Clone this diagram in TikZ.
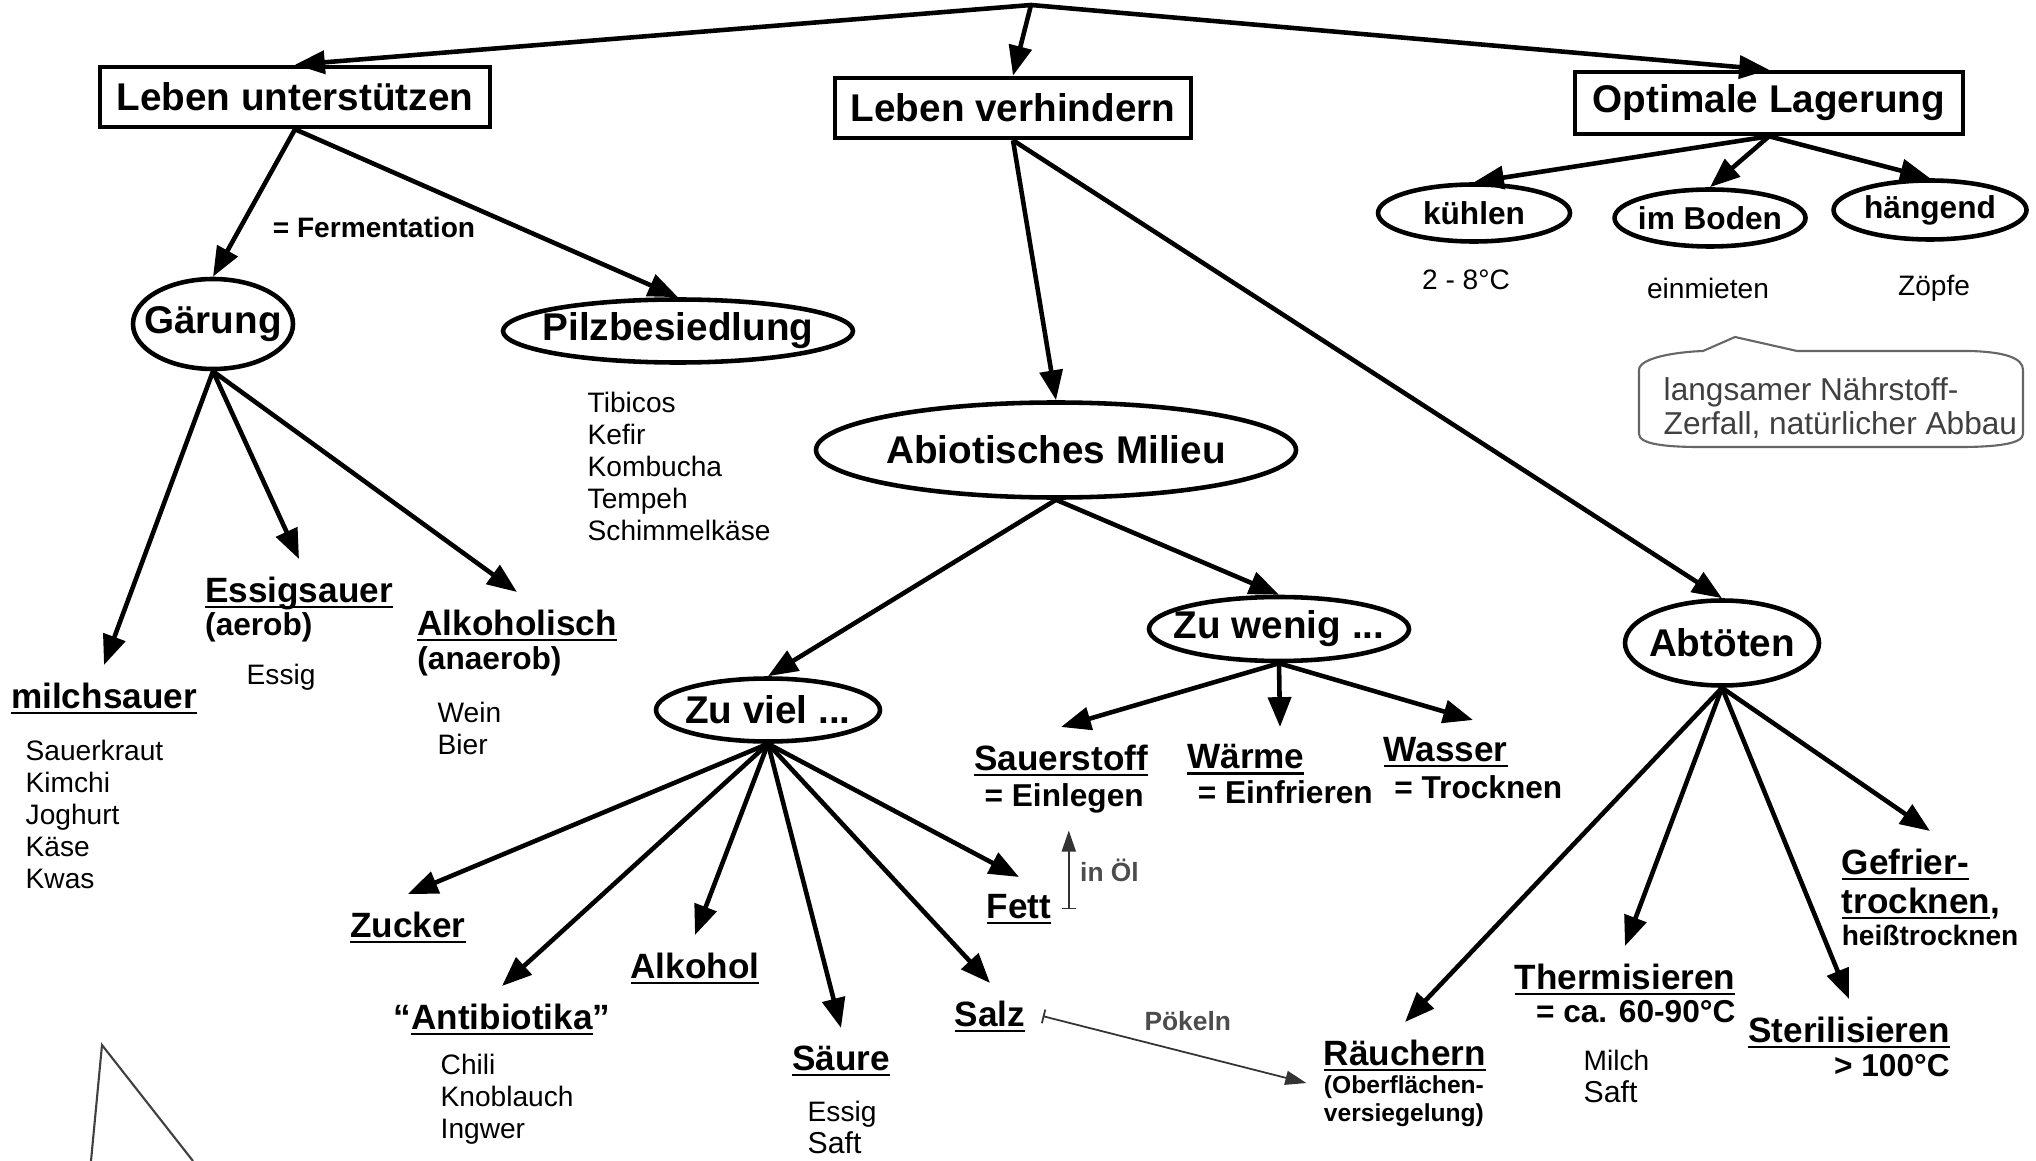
\documentclass[tikz,border=0pt]{standalone}
\usepackage{fontspec}
\setmainfont{Liberation Sans}
\setsansfont{Liberation Sans}
\usetikzlibrary{arrows.meta,shapes.geometric}
\newcommand\haupt{\fontsize{11}{13}\selectfont\bfseries}
\newcommand\stw{\fontsize{10}{12}\selectfont\bfseries}
\newcommand\klein{\fontsize{8}{9.1}\selectfont}
\newsavebox\strichbox
\newcommand\strich[1]{\sbox\strichbox{#1}\rlap{\rule[-1.6pt]{\wd\strichbox}{.6pt}}\usebox\strichbox}
\newcommand\zentr[1]{\makebox[0pt]{#1}}
\begin{document}
\begin{tikzpicture}[x=1cm,y=-1cm,font=\sffamily,
	kasten/.style={draw,line width=1.3pt,inner sep=0pt,minimum height=.6cm,font=\haupt},
	oval/.style={ellipse,draw,line width=1.3pt,inner sep=0pt,font=\haupt},
	wort/.style={anchor=north,align=left,inner sep=2pt,outer sep=3pt,font=\stw},
	liste/.style={anchor=north west,align=left,inner sep=0pt,font=\klein},
	pfeil/.style={-{Triangle[length=8.5pt,width=6.5pt]},line width=1.3pt},
	duenn/.style={{Bar[width=4pt]}-{Triangle[length=6pt,width=4pt]},line width=.5pt,black!80},
	grau/.style={text=black!70,inner sep=1pt,font=\fontsize{7.5}{9}\selectfont\bfseries}]
	\useasboundingbox (0,0) rectangle (20.36,11.61);
	\coordinate (spitze) at (10.31,0.05); % gemeinsamer Ausgangspunkt
	\node[kasten,minimum width=3.90cm] (lu) at (2.95,0.97) {Leben unterstützen};
	\node[kasten,minimum width=3.56cm] (lv) at (10.13,1.08) {Leben verhindern};
	\node[kasten,minimum width=3.88cm,minimum height=.62cm] (ol) at (17.69,1.03) {Optimale Lagerung};
	% Lagerung
	\node[oval,minimum width=1.92cm,minimum height=.57cm,font=\fontsize{9}{11}\selectfont\bfseries] (kuehlen) at (14.74,2.13) {\zentr{kühlen}};
	\node[oval,minimum width=1.91cm,minimum height=.57cm,font=\fontsize{9}{11}\selectfont\bfseries] (boden) at (17.10,2.18) {\zentr{im Boden}};
	\node[oval,minimum width=1.93cm,minimum height=.59cm,font=\fontsize{9}{11}\selectfont\bfseries] (haengend) at (19.30,2.10) {\zentr{hängend}};
	\node[font=\klein] (grad) at (14.66,2.80) {2 - 8°C};
	\node[font=\klein] (mieten) at (17.08,2.88) {einmieten};
	\node[font=\klein] (zoepfe) at (19.34,2.88) {Zöpfe};
	\draw[black!60,line width=.6pt] (16.39,3.70) .. controls (16.39,3.58) and (16.75,3.52) .. (17.03,3.51) -- (17.35,3.37) -- (17.97,3.51) -- (19.70,3.51) .. controls (20.05,3.52) and (20.23,3.58) .. (20.23,3.70) -- (20.23,4.34) .. controls (20.23,4.44) and (19.95,4.47) .. (19.60,4.47) -- (17.00,4.47) .. controls (16.65,4.47) and (16.39,4.44) .. (16.39,4.34) -- cycle;
	\node[liste,font=\fontsize{9}{9.6}\selectfont,text=black!75] (zerfall) at (16.63,3.77) {langsamer Nährstoff-\\Zerfall, natürlicher Abbau};
	% Leben unterstuetzen
	\node[oval,minimum width=1.60cm,minimum height=.90cm] (gaer) at (2.13,3.24) {\zentr{Gärung}};
	\node[oval,minimum width=3.50cm,minimum height=.63cm] (pilz) at (6.78,3.31) {\zentr{Pilzbesiedlung}};
	\node[font=\fontsize{8}{9}\selectfont\bfseries] (ferm) at (3.74,2.27) {= Fermentation};
	\node[liste] (pilzliste) at (5.87,3.91) {Tibicos\\Kefir\\Kombucha\\Tempeh\\Schimmelkäse};
	\node[wort] (milch) at (1.04,6.65) {\strich{milchsauer}};
	\node[liste] (milchliste) at (0.25,7.39) {Sauerkraut\\Kimchi\\Joghurt\\Käse\\Kwas};
	\node[wort,font=\fontsize{9}{9.5}\selectfont\bfseries] (essig) at (2.99,5.59) {{\stw\strich{Essigsauer}}\\(aerob)};
	\node[liste] (essigliste) at (2.46,6.63) {Essig};
	\node[wort,font=\fontsize{9}{9.7}\selectfont\bfseries] (alk) at (5.17,5.92) {{\stw\strich{Alkoholisch}}\\(anaerob)};
	\node[liste] (weinliste) at (4.37,7.01) {Wein\\Bier};
	% Leben verhindern
	\node[oval,minimum width=4.80cm,minimum height=.95cm] (abio) at (10.56,4.50) {\zentr{Abiotisches Milieu}};
	\node[oval,minimum width=2.24cm,minimum height=.63cm] (zuviel) at (7.68,7.10) {\zentr{Zu viel ...}};
	\node[oval,minimum width=2.60cm,minimum height=.64cm] (zuwenig) at (12.79,6.29) {\zentr{Zu wenig ...}};
	\node[oval,minimum width=1.94cm,minimum height=.85cm] (abt) at (17.22,6.43) {\zentr{Abtöten}};
	\node[wort] (zucker) at (4.08,8.94) {\strich{Zucker}};
	\node[wort] (anti) at (5.02,9.86) {“\strich{Antibiotika}”};
	\node[liste] (antiliste) at (4.40,10.53) {Chili\\Knoblauch\\Ingwer};
	\node[wort] (alkohol) at (6.95,9.35) {\strich{Alkohol}};
	\node[wort] (saeure) at (8.41,10.28) {\strich{Säure}};
	\node[liste] (saeureliste) at (8.07,11.00) {Essig\\{\fontsize{8.6}{9.1}\selectfont Saft}};
	\node[wort] (salz) at (9.90,9.83) {\strich{Salz}};
	\node[wort] (fett) at (10.19,8.77) {\strich{Fett}};
	\node[wort,font=\fontsize{9}{10.3}\selectfont\bfseries] (sauer) at (10.61,7.27) {{\stw\strich{Sauerstoff}}\\\hspace*{3pt}= Einlegen};
	\node[wort,font=\fontsize{9}{9.9}\selectfont\bfseries] (waerme) at (12.80,7.27) {{\stw\strich{Wärme}}\\\hspace*{3pt}= Einfrieren};
	\node[wort,font=\fontsize{9}{10.4}\selectfont\bfseries] (wasser) at (14.73,7.20) {{\stw\strich{Wasser}}\\\hspace*{3pt}= Trocknen};
	\node[wort,font=\fontsize{7}{8}\selectfont\bfseries] (raeuchern) at (14.05,10.22) {{\stw\strich{Räuchern}}\\(Oberflächen-\\versiegelung)};
	\node[wort,align=right,font=\fontsize{9}{9.6}\selectfont\bfseries] (therm) at (16.25,9.46) {{\stw\strich{Thermisieren}}\\= ca. 60-90°C};
	\node[liste] (milchsaft) at (15.83,10.49) {Milch\\{\fontsize{8.6}{9.1}\selectfont Saft}};
	\node[wort,align=right,font=\fontsize{9}{9.9}\selectfont\bfseries] (steril) at (18.49,9.99) {{\stw\strich{Sterilisieren}}\\> 100°C};
	\node[wort,font=\fontsize{8}{8.9}\selectfont\bfseries] (gefrier) at (19.30,8.31) {{\stw\strich{Gefrier-}}\\[2.4pt]{\stw\strich{trocknen},}\\heißtrocknen};
	% Pfeile
	\draw[pfeil] (spitze) -- (lu.north);
	\draw[pfeil] (spitze) -- (lv.north);
	\draw[pfeil] (spitze) -- (ol.north);
	\draw[pfeil] (ol.south) -- (kuehlen.north);
	\draw[pfeil] (ol.south) -- (boden.north);
	\draw[pfeil] (ol.south) -- (haengend.north);
	\draw[pfeil] (lu.south) -- (gaer.north);
	\draw[pfeil] (lu.south) -- (pilz.north);
	\draw[pfeil] (gaer.south) -- (milch.north);
	\draw[pfeil] (gaer.south) -- (essig.north);
	\draw[pfeil] (gaer.south) -- (alk.north);
	\draw[pfeil] (lv.south) -- (abio.north);
	\draw[pfeil] (lv.south) -- (abt.north);
	\draw[pfeil] (abio.south) -- (zuviel.north);
	\draw[pfeil] (abio.south) -- (zuwenig.north);
	\draw[pfeil] (zuviel.south) -- (zucker.north);
	\draw[pfeil] (zuviel.south) -- (anti.north);
	\draw[pfeil] (zuviel.south) -- (alkohol.north);
	\draw[pfeil] (zuviel.south) -- (saeure.north);
	\draw[pfeil] (zuviel.south) -- (salz.north);
	\draw[pfeil] (zuviel.south) -- (fett.north);
	\draw[pfeil] (zuwenig.south) -- (sauer.north);
	\draw[pfeil] (zuwenig.south) -- (waerme.north);
	\draw[pfeil] (zuwenig.south) -- (wasser.north);
	\draw[pfeil] (abt.south) -- (raeuchern.north);
	\draw[pfeil] (abt.south) -- (therm.north);
	\draw[pfeil] (abt.south) -- (steril.north);
	\draw[pfeil] (abt.south) -- (gefrier.north);
	\draw[duenn] (fett.east) -- (fett.east |- sauer.south) node[midway,right=2pt,grau] (oel) {in Öl};
	\draw[duenn] (salz.east) -- (raeuchern.west) node[pos=.55,above=5pt,grau] (poekeln) {Pökeln};
	% Rest unten links
	\draw[black!75,line width=.6pt] (0.91,11.61) -- (1.02,10.45) -- (1.93,11.61);
\end{tikzpicture}
\end{document}
